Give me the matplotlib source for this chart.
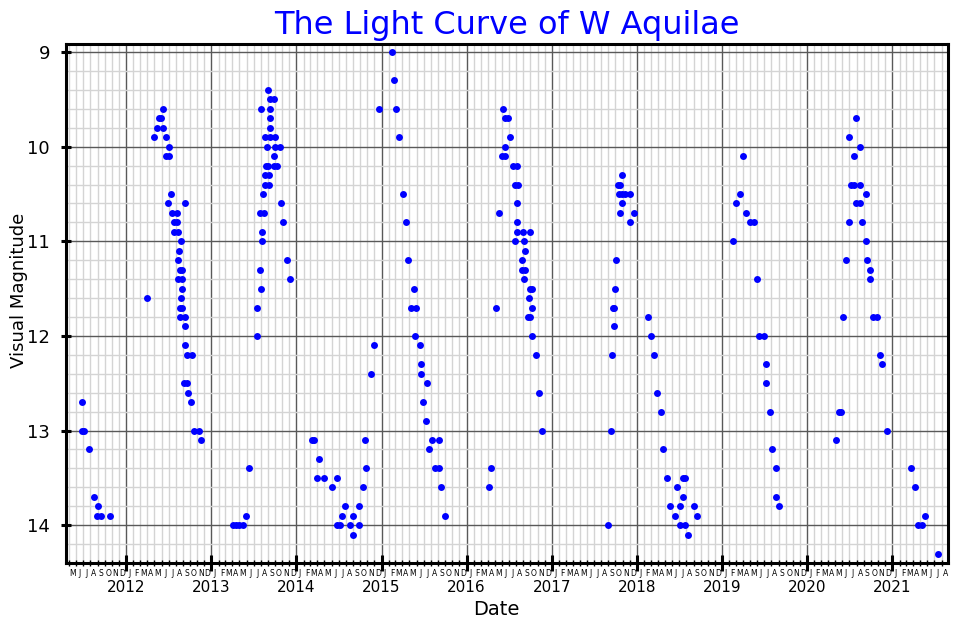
#! /usr/bin/env python3

'''
plot.py draws the visual light curve of the Mira variable W Aquilae (2011-2021)
'''

import numpy as np
import pandas as pd
import matplotlib
matplotlib.use('Agg')
import matplotlib.pyplot as plt
import matplotlib.dates as mdates
from matplotlib.ticker import MultipleLocator

# observation times as decimal years, visual magnitudes, one pair per season
t_2011 = [2011.487, 2011.487, 2011.510, 2011.565, 2011.627, 2011.667, 2011.656, 2011.710, 2011.812]
m_2011 = [12.7, 13.0, 13.0, 13.2, 13.7, 13.8, 13.9, 13.9, 13.9]

t_2012 = [2012.247, 2012.438, 2012.388, 2012.411, 2012.361, 2012.438, 2012.325, 2012.470,
          2012.502, 2012.470, 2012.502, 2012.525, 2012.490, 2012.690, 2012.537, 2012.596,
          2012.556, 2012.596, 2012.564, 2012.603, 2012.638, 2012.615, 2012.603, 2012.635,
          2012.654, 2012.611, 2012.654, 2012.650, 2012.638, 2012.635, 2012.654, 2012.635,
          2012.693, 2012.690, 2012.690, 2012.713, 2012.772, 2012.673, 2012.713, 2012.725,
          2012.764, 2012.791, 2012.850, 2012.881]
m_2012 = [11.6, 9.6, 9.7, 9.7, 9.8, 9.8, 9.9, 9.9,
          10.0, 10.1, 10.1, 10.5, 10.6, 10.6, 10.7, 10.7,
          10.8, 10.8, 10.9, 10.9, 11.0, 11.1, 11.2, 11.3,
          11.3, 11.4, 11.4, 11.5, 11.6, 11.7, 11.7, 11.8,
          11.8, 11.9, 12.1, 12.2, 12.2, 12.5, 12.5, 12.6,
          12.7, 13.0, 13.0, 13.1]

t_2013 = [2013.249, 2013.289, 2013.328, 2013.367, 2013.410, 2013.437, 2013.536, 2013.536,
          2013.575, 2013.583, 2013.594, 2013.594, 2013.575, 2013.613, 2013.606, 2013.625,
          2013.672, 2013.625, 2013.672, 2013.639, 2013.663, 2013.739, 2013.774, 2013.731,
          2013.653, 2013.743, 2013.801, 2013.625, 2013.692, 2013.743, 2013.692, 2013.692,
          2013.586, 2013.684, 2013.684, 2013.731, 2013.665, 2013.818, 2013.841, 2013.888,
          2013.919]
m_2013 = [14.0, 14.0, 14.0, 14.0, 13.9, 13.4, 11.7, 12.0,
          11.3, 11.5, 10.9, 11.0, 10.7, 10.7, 10.5, 10.4,
          10.4, 10.3, 10.3, 10.2, 10.2, 10.2, 10.2, 10.1,
          10.0, 10.0, 10.0, 9.9, 9.9, 9.9, 9.8, 9.7,
          9.6, 9.6, 9.5, 9.5, 9.4, 10.6, 10.8, 11.2,
          11.4]

t_2014 = [2014.182, 2014.201, 2014.268, 2014.236, 2014.327, 2014.476, 2014.417, 2014.573,
          2014.741, 2014.541, 2014.659, 2014.476, 2014.515, 2014.632, 2014.741, 2014.667,
          2014.808, 2014.816, 2014.785, 2014.875, 2014.906, 2014.969]
m_2014 = [13.1, 13.1, 13.3, 13.5, 13.5, 13.5, 13.6, 13.8,
          13.8, 13.9, 13.9, 14.0, 14.0, 14.0, 14.0, 14.1,
          13.1, 13.4, 13.6, 12.4, 12.1, 9.6]

t_2015 = [2015.122, 2015.149, 2015.176, 2015.211, 2015.247, 2015.287, 2015.317, 2015.381,
          2015.349, 2015.408, 2015.396, 2015.455, 2015.470, 2015.470, 2015.540, 2015.486,
          2015.525, 2015.596, 2015.681, 2015.557, 2015.623, 2015.681, 2015.705, 2015.752]
m_2015 = [9.0, 9.3, 9.6, 9.9, 10.5, 10.8, 11.2, 11.5,
          11.7, 11.7, 12.0, 12.1, 12.3, 12.4, 12.5, 12.7,
          12.9, 13.1, 13.1, 13.2, 13.4, 13.4, 13.6, 13.9]

t_2016 = [2016.265, 2016.289, 2016.348, 2016.375, 2016.427, 2016.453, 2016.485, 2016.512,
          2016.445, 2016.415, 2016.445, 2016.544, 2016.594, 2016.571, 2016.602, 2016.594,
          2016.594, 2016.594, 2016.661, 2016.739, 2016.571, 2016.668, 2016.680, 2016.649,
          2016.649, 2016.680, 2016.677, 2016.739, 2016.767, 2016.735, 2016.767, 2016.742,
          2016.718, 2016.767, 2016.814, 2016.853, 2016.888]
m_2016 = [13.6, 13.4, 11.7, 10.7, 9.6, 9.7, 9.7, 9.9,
          10.0, 10.1, 10.1, 10.2, 10.2, 10.4, 10.4, 10.6,
          10.8, 10.9, 10.9, 10.9, 11.0, 11.0, 11.1, 11.2,
          11.3, 11.3, 11.4, 11.5, 11.5, 11.6, 11.7, 11.8,
          11.8, 12.0, 12.2, 12.6, 13.0]

t_2017 = [2017.655, 2017.695, 2017.707, 2017.731, 2017.715, 2017.734, 2017.738, 2017.754,
          2017.820, 2017.775, 2017.799, 2017.785, 2017.825, 2017.864, 2017.914, 2017.825,
          2017.799, 2017.968, 2017.922]
m_2017 = [14.0, 13.0, 12.2, 11.9, 11.7, 11.7, 11.5, 11.2,
          10.3, 10.4, 10.4, 10.5, 10.5, 10.5, 10.5, 10.6,
          10.7, 10.7, 10.8]

t_2018 = [2018.125, 2018.165, 2018.196, 2018.231, 2018.286, 2018.306, 2018.353, 2018.537,
          2018.560, 2018.471, 2018.537, 2018.392, 2018.510, 2018.666, 2018.443, 2018.710,
          2018.510, 2018.560, 2018.604]
m_2018 = [11.8, 12.0, 12.2, 12.6, 12.8, 13.2, 13.5, 13.5,
          13.5, 13.6, 13.7, 13.8, 13.8, 13.8, 13.9, 13.9,
          14.0, 14.0, 14.1]

t_2019 = [2019.132, 2019.167, 2019.214, 2019.253, 2019.281, 2019.332, 2019.371, 2019.411,
          2019.438, 2019.489, 2019.512, 2019.520, 2019.564, 2019.591, 2019.641, 2019.641,
          2019.673]
m_2019 = [11.0, 10.6, 10.5, 10.1, 10.7, 10.8, 10.8, 11.4,
          12.0, 12.0, 12.3, 12.5, 12.8, 13.2, 13.4, 13.7,
          13.8]

t_2020 = [2020.339, 2020.372, 2020.401, 2020.421, 2020.452, 2020.492, 2020.495, 2020.515,
          2020.546, 2020.621, 2020.546, 2020.570, 2020.574, 2020.616, 2020.616, 2020.645,
          2020.687, 2020.687, 2020.707, 2020.734, 2020.734, 2020.774, 2020.821, 2020.852,
          2020.883, 2020.942]
m_2020 = [13.1, 12.8, 12.8, 11.8, 11.2, 9.9, 10.8, 10.4,
          10.4, 10.4, 10.1, 9.7, 10.6, 10.6, 10.0, 10.8,
          10.5, 11.0, 11.2, 11.3, 11.4, 11.8, 11.8, 12.2,
          12.3, 13.0]

t_2021 = [2021.220, 2021.271, 2021.302, 2021.349, 2021.389, 2021.538]
m_2021 = [13.4, 13.6, 14.0, 14.0, 13.9, 14.3]

month_letters = 'JFMAMJJASOND'


def decimal_year_to_date(y):
    '''
       converts a decimal year (e.g. 2015.5) to a pandas Timestamp
    '''
    yr = int(y)
    start = pd.Timestamp(year=yr, month=1, day=1)
    end = pd.Timestamp(year=yr + 1, month=1, day=1)
    return start + (end - start) * (y - yr)


# put the seasons together
t_all = t_2011 + t_2012 + t_2013 + t_2014 + t_2015 + t_2016 + t_2017 + t_2018 + t_2019 + t_2020 + t_2021
m_all = m_2011 + m_2012 + m_2013 + m_2014 + m_2015 + m_2016 + m_2017 + m_2018 + m_2019 + m_2020 + m_2021
dates = [decimal_year_to_date(t) for t in t_all]

fig = plt.figure(figsize=(9.6, 6.24), dpi=100)
ax = fig.add_axes([0.06875, 0.0978, 0.91875, 0.8317])

ax.plot(dates, m_all, 'o', color='blue', markersize=5, markeredgewidth=0, zorder=3)

ax.set_xlim(pd.Timestamp('2011-04-18'), pd.Timestamp('2021-08-28'))
ax.set_ylim(14.4, 8.915)      # magnitudes: brighter is up

# x axis: years as major ticks, months as minor ticks
ax.xaxis.set_major_locator(mdates.YearLocator())
ax.xaxis.set_major_formatter(mdates.DateFormatter('%Y'))
ax.xaxis.set_minor_locator(mdates.MonthLocator())
ax.yaxis.set_major_locator(MultipleLocator(1))
ax.yaxis.set_minor_locator(MultipleLocator(0.2))

ax.tick_params(axis='x', which='major', direction='inout', length=12, width=2.2,
               pad=6, labelsize=11, colors='black')
ax.tick_params(axis='x', which='minor', direction='inout', length=5, width=1)
ax.tick_params(axis='y', which='major', direction='inout', length=7, width=2.2,
               pad=8, labelsize=13)
ax.tick_params(axis='y', which='minor', length=0)

# month initials under the minor ticks
for m_start in pd.date_range('2011-05-01', '2021-08-01', freq='MS'):
    ax.annotate(month_letters[m_start.month - 1], xy=(m_start + pd.Timedelta(days=15), 0),
                xycoords=('data', 'axes fraction'), xytext=(0, -4.5), textcoords='offset points',
                ha='center', va='top', fontsize=5.5, color='black')

ax.grid(which='major', color='0.35', linewidth=1.0, zorder=0)
ax.grid(which='minor', color='0.83', linewidth=1.0, zorder=0)
ax.set_axisbelow(True)

for side in ['left', 'right', 'top', 'bottom']:
    ax.spines[side].set_linewidth(2.2)
    ax.spines[side].set_color('black')

ax.set_title('The Light Curve of W Aquilae', color='blue', fontsize=23, pad=7)
ax.set_xlabel('Date', fontsize=14)
ax.set_ylabel('Visual Magnitude', fontsize=13)
ax.xaxis.set_label_coords(0.4875, -0.072)
ax.yaxis.set_label_coords(-0.043, 0.526)

plt.savefig('out.png', dpi=100)
